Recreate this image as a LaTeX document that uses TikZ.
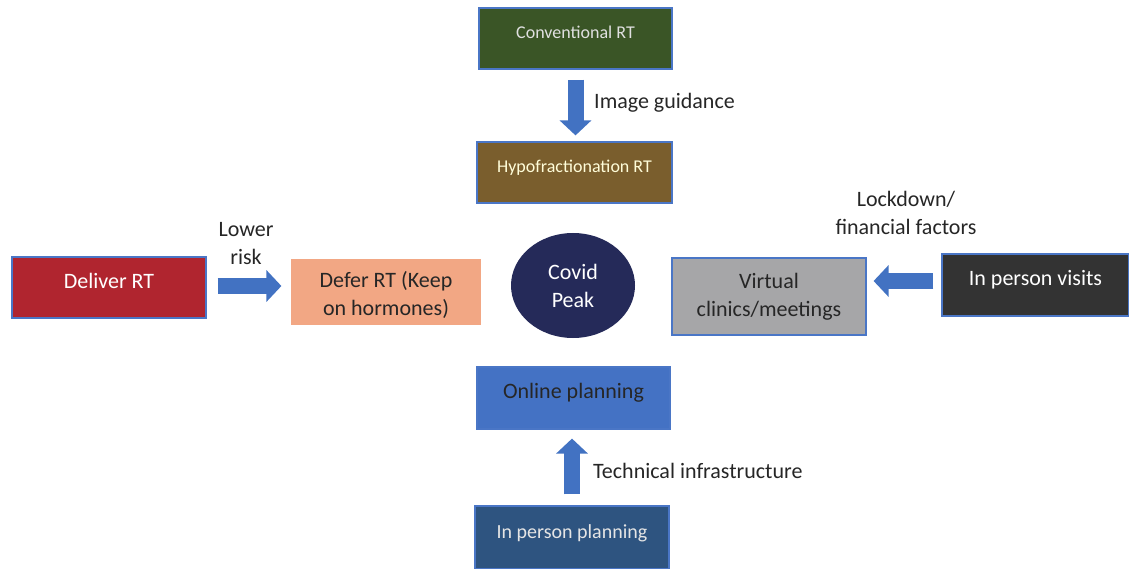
\documentclass[tikz,border=0pt]{standalone}
\usepackage{fontspec}
\setmainfont{Carlito}
\usetikzlibrary{arrows.meta,shapes.geometric}
\definecolor{convgreen}{HTML}{3A5526}
\definecolor{hypobrown}{HTML}{7A5E2D}
\definecolor{deliverred}{HTML}{B0252F}
\definecolor{defersalmon}{HTML}{F2A784}
\definecolor{covidnavy}{HTML}{252A59}
\definecolor{virtgray}{HTML}{A6A6A8}
\definecolor{visitdark}{HTML}{333333}
\definecolor{onlineblue}{HTML}{4472C4}
\definecolor{planblue}{HTML}{2E5480}
\definecolor{edgeblue}{HTML}{4A76C6}
\definecolor{arrblue}{HTML}{4272C2}
\tikzset{
  box/.style={draw=edgeblue,line width=1.2pt,inner sep=0pt,align=center,
    font=\fontsize{22}{28}\selectfont},
  lifted/.style={text height=15pt,text depth=14pt},
  blockarr/.style={arrblue,line width=16pt,-{Triangle[length=15pt,width=31pt]}},
  lbl/.style={inner sep=0pt,align=center,text=black!85,font=\fontsize{22}{28}\selectfont}
}
\begin{document}
\begin{tikzpicture}[x=1pt,y=-1pt]
\useasboundingbox (0,0) rectangle (1129,569);

\node[box,lifted,fill=convgreen,text=white!88!black,minimum width=193pt,minimum height=61pt,
  font=\fontsize{18}{22}\selectfont] (conv) at (575.5,38.5) {Conventional RT};
\node[box,lifted,fill=hypobrown,text=white!85!yellow,minimum width=195pt,minimum height=61pt,
  font=\fontsize{18}{22}\selectfont] (hypo) at (574.5,172.5) {Hypofractionation RT};
\node[box,lifted,fill=deliverred,text=white,minimum width=194pt,minimum height=61pt] (deliver) at (109,287.5) {Deliver RT};
\node[box,draw=none,fill=defersalmon,text=black!85,minimum width=190pt,minimum height=66pt,
  text height=47pt,text depth=0pt] (defer) at (386,292) {Defer RT (Keep\\on hormones)};
\node[box,draw=none,ellipse,fill=covidnavy,text=white,minimum width=124pt,minimum height=105pt] (covid) at (573,285.5) {Covid\\Peak};
\node[box,fill=virtgray,text=black!85,minimum width=194pt,minimum height=77pt] (virtual) at (769,296.5) {Virtual\\clinics/meetings};
\node[box,lifted,fill=visitdark,text=white,minimum width=187pt,minimum height=62pt] (visits) at (1035.5,285) {In person visits};
\node[box,lifted,fill=onlineblue,text=black!85,minimum width=193pt,minimum height=62pt] (online) at (573.5,398) {Online planning};
\node[box,lifted,fill=planblue,text=white!90!black,minimum width=194pt,minimum height=63pt,
  font=\fontsize{20}{24}\selectfont] (inplan) at (572,537.5) {In person planning};

\node[lbl,anchor=west] (guide) at (594,103) {Image guidance};
\node[lbl] (risk) at (246,244) {Lower\\risk};
\node[lbl] (lock) at (906,213) {Lockdown/\\financial factors};
\node[lbl,anchor=west] (tech) at (593,471) {Technical infrastructure};

\draw[blockarr,shorten <=10pt,shorten >=6pt] (conv.south) -- (conv.south |- hypo.north);
\draw[blockarr,shorten <=11pt,shorten >=9pt] ([yshift=1.5pt]deliver.east) -- ([yshift=1.5pt]deliver.east -| defer.west);
\draw[blockarr,shorten <=8pt,shorten >=7pt] ([yshift=4pt]visits.west) -- ([yshift=4pt]visits.west -| virtual.east);
\draw[blockarr,shorten <=11pt,shorten >=9pt] (inplan.north) -- (inplan.north |- online.south);
\end{tikzpicture}
\end{document}
